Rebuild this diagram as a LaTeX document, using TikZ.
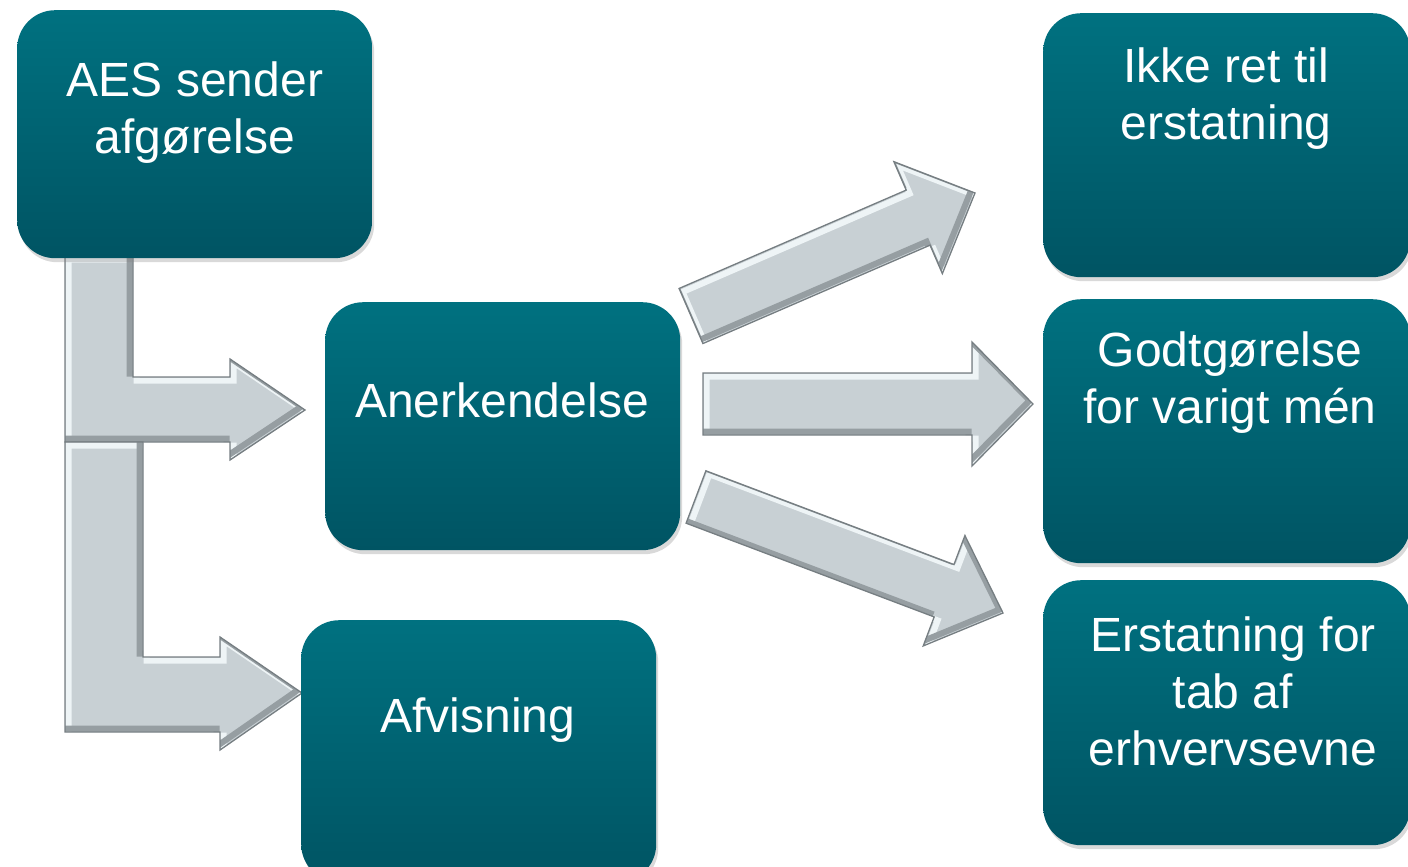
\documentclass[tikz,border=0pt]{standalone}
\usepackage{fontspec}
\setmainfont{Liberation Sans}
\usetikzlibrary{calc,shadows}
\definecolor{boxtop}{RGB}{0,113,128}
\definecolor{boxbot}{RGB}{0,84,99}
\definecolor{arrfill}{RGB}{200,208,212}
\definecolor{arredge}{RGB}{118,126,130}
\definecolor{arrdark}{RGB}{150,158,162}
\definecolor{arrlight}{RGB}{238,244,246}
\tikzset{
  box/.style={rounded corners=38pt, top color=boxtop, bottom color=boxbot, draw=none,
    inner sep=0pt, anchor=north west, minimum width=355pt, minimum height=248pt,
    drop shadow={opacity=0.3, shadow xshift=2pt, shadow yshift=-4pt}},
  txt/.style={text=white, font=\fontsize{48}{57}\selectfont, align=center, inner sep=0pt},
  arrowfill/.style={fill=arrfill, line join=miter,
    drop shadow={opacity=0.35, shadow xshift=2pt, shadow yshift=-3pt}},
  arrowedge/.style={draw=arredge, line width=1.3pt, line join=miter},
}
\newcommand\bevelshape[1]{%
  \path[save path=\bvp] #1;
  \fill[arrowfill, use path=\bvp];
  \begin{scope}
    \clip[use path=\bvp];
    \begin{scope}[transform canvas={shift={(3.5pt,-3.5pt)}}]
      \draw[arrlight, line width=6pt, line join=miter, use path=\bvp];
    \end{scope}
    \begin{scope}[transform canvas={shift={(-3.5pt,3.5pt)}}]
      \draw[arrdark, line width=6pt, line join=miter, use path=\bvp];
    \end{scope}
  \end{scope}
  \draw[arrowedge, use path=\bvp];
}
\newcommand\fatarrow[5]{% tail, tip, half shaft, half head, head length
  \coordinate (hb) at ($(#2)!#5!(#1)$);
  \bevelshape{($(#1)!#3!90:(#2)$) -- ($(hb)!#3!90:(#2)$) -- ($(hb)!#4!90:(#2)$)
    -- (#2) -- ($(hb)!#4!-90:(#2)$) -- ($(hb)!#3!-90:(#2)$) -- ($(#1)!#3!-90:(#2)$) -- cycle}
}
\begin{document}
\begin{tikzpicture}[x=1pt,y=-1pt]
\useasboundingbox (0,0) rectangle (1408,867);
% L-shaped connectors
\bevelshape{(65,256) -- (133,256) -- (133,377) -- (230,377) -- (230,359) -- (305,410)
  -- (230,460) -- (230,442) -- (65,442) -- cycle}
\bevelshape{(65,442) -- (143,442) -- (143,657) -- (220,657) -- (220,637) -- (302,693)
  -- (220,750) -- (220,732) -- (65,732) -- cycle}
% boxes
\node[box] (aes) at (17,10) {};
\node[box] (anerk) at (325,302) {};
\node[box, minimum height=262pt] (afv) at (301,620) {};
\node[box, minimum width=367pt, minimum height=264pt] (ikke) at (1043,13) {};
\node[box, minimum width=367pt, minimum height=264pt] (godt) at (1043,299) {};
\node[box, minimum width=367pt, minimum height=265pt] (erst) at (1043,580) {};
% texts
\node[txt] (aesT) at (195,113) {AES sender\\afgørelse};
\node[txt] (anerkT) at (502,400) {Anerkendelse};
\node[txt] (afvT) at (478,720) {Afvisning};
\node[txt] (ikkeT) at (1226,99) {Ikke ret til\\erstatning};
\node[txt] (godtT) at (1230,383) {Godtgørelse\\for varigt mén};
\node[txt] (erstT) at (1233,691) {Erstatning for\\tab af\\erhvervsevne};
% fan-out arrows
\coordinate (t1) at (691,316); \coordinate (p1) at (975,193);
\coordinate (t2) at (703,404); \coordinate (p2) at (1033,404);
\coordinate (t3) at (696,497); \coordinate (p3) at (1003,613);
\fatarrow{t1}{p1}{30pt}{61pt}{62pt}
\fatarrow{t2}{p2}{31pt}{62pt}{61pt}
\fatarrow{t3}{p3}{28pt}{59pt}{63pt}
\end{tikzpicture}
\end{document}
